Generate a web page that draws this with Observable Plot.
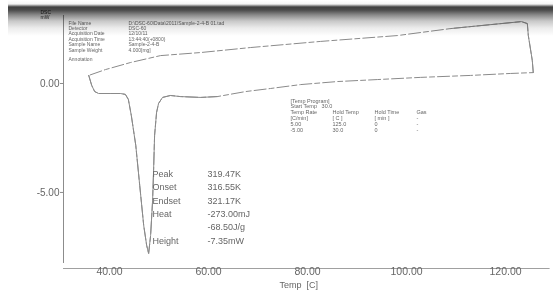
<!DOCTYPE html>
<html>
<head>
<meta charset="utf-8">
<script src="https://cdn.jsdelivr.net/npm/d3@7"></script>
<script src="https://cdn.jsdelivr.net/npm/@observablehq/plot@0.6"></script>
<style>
  html, body { margin: 0; padding: 0; background: #ffffff; }
  #wrap { position: relative; width: 553px; height: 295px; overflow: hidden; }
  #wrap svg { filter: blur(0.35px); }
  #shade {
    position: absolute; left: 8px; top: 0; width: 545px; height: 40px; pointer-events: none;
    mix-blend-mode: multiply;
    background: linear-gradient(to bottom, #ffffff 0px, #f4f4f4 4px, #3e3e3e 7px, #4a4a4a 10px,
      #8a8a8a 15px, #c8c8c8 21px, #ececec 28px, #ffffff 36px);
  }
</style>
</head>
<body>
<div id="wrap"><div id="shade"></div></div>
<script>
// Temperature [C] along the recorded loop (heating, hold jump, cooling)
const temps = [35.8, 36.4, 37.0, 37.8, 40.2, 42.2, 43.2, 43.8, 44.4, 45.3, 46.1, 46.9, 47.5, 47.9,
  48.3, 48.7, 48.9, 49.1, 49.5, 49.9, 50.7, 52.3, 54.3, 58.4, 61.8, 67.5, 72.5, 78.6, 86.1, 94.1,
  102.8, 112.9, 121.0, 125.6, 125.4, 124.6, 124.4, 123.2, 108.9, 98.2, 82.6, 68.5, 58.4, 50.3,
  44.2, 39.2, 35.8];
// DSC signal [mW]
const heatFlow = [0.37, -0.09, -0.37, -0.46, -0.46, -0.46, -0.50, -0.73, -1.47, -2.84, -4.68, -6.51,
  -7.43, -7.80, -6.97, -5.37, -3.99, -2.39, -1.33, -0.92, -0.64, -0.55, -0.60, -0.64, -0.60, -0.37,
  -0.23, -0.05, 0.09, 0.18, 0.28, 0.37, 0.46, 0.50, 1.06, 2.20, 2.75, 2.84, 2.52, 2.20, 1.93, 1.65,
  1.42, 1.28, 0.96, 0.64, 0.37];

const xTicks = [40, 60, 80, 100, 120];
const yTicks = [0, -5];
const xTitle = "Temp  [C]";

const headerLines = ["DSC", "mW"];
const infoLabels = ["File Name", "Detector", "Acquisition Date", "Acquisition Time", "Sample Name", "Sample Weight"];
const infoValues = ["D:\\DSC-60\\Data\\2011\\Sample-2-4-B 01.tad", "DSC-60", "12/10/11", "13:44:40(+0800)", "Sample-2-4-B", "4.000[mg]"];
const annotationLabel = "Annotation";

const peakLabels = ["Peak", "Onset", "Endset", "Heat", "", "Height"];
const peakValues = ["319.47K", "316.55K", "321.17K", "-273.00mJ", "-68.50J/g", "-7.35mW"];

const programHead = ["[Temp Program]", "Start Temp   30.0"];
const programCols = [
  ["Temp Rate", "[C/min]", "5.00", "-5.00"],
  ["Hold Temp", "[ C ]", "125.0", "30.0"],
  ["Hold Time", "[ min ]", "0", "0"],
  ["Gas", "-", "-", "-"]
];

const data = temps.map((t, i) => ({t, mw: heatFlow[i], i}));
const solidA = data.filter(d => d.i <= 24);
const solidB = data.filter(d => d.i >= 33 && d.i <= 38);

const ink = "#666666";
const lineInk = "#8a8a8a";
const font = "'Liberation Sans', Arial, sans-serif";

const txt = (lines, o) => Plot.text([lines.join("\n")], Object.assign({
  text: d => d, frameAnchor: "top-left", textAnchor: "start", lineAnchor: "top", fill: ink
}, o));

const xLeft = 30.7, xRight = 129;
const chart = Plot.plot({
  width: 553, height: 295,
  marginLeft: 63, marginRight: 3.4, marginTop: 15, marginBottom: 27,
  x: {domain: [xLeft, xRight], label: null},
  y: {domain: [-8.49, 3.12], label: null},
  style: {fontFamily: font, color: ink, background: "transparent"},
  marks: [
    Plot.ruleX([xLeft], {y1: -8.26, y2: 3.12, stroke: "#8c8c8c", strokeWidth: 1}),
    Plot.ruleY([-8.49], {stroke: "#a0a0a0", strokeWidth: 1}),
    Plot.axisY({ticks: yTicks, tickFormat: d => d.toFixed(2), tickSize: 3, tickPadding: 1, fontSize: 10, label: null, stroke: "#8c8c8c"}),
    Plot.axisX({ticks: xTicks, tickFormat: d => d.toFixed(2), tickSize: 0, tickPadding: -1, fontSize: 10.5, label: null}),
    Plot.text([xTitle], {text: d => d, frameAnchor: "bottom", lineAnchor: "bottom", dx: -8, dy: 19, fontSize: 9, fill: ink}),
    Plot.line(data, {x: "t", y: "mw", stroke: lineInk, strokeWidth: 1, strokeDasharray: "12,3,5,3"}),
    Plot.line(solidA, {x: "t", y: "mw", stroke: lineInk, strokeWidth: 1}),
    Plot.line(solidB, {x: "t", y: "mw", stroke: lineInk, strokeWidth: 1}),
    // header
    txt(headerLines, {dx: -23, dy: -5.5, fontSize: 5, lineHeight: 1.0, fill: "#303030"}),
    // info block
    txt(infoLabels, {dx: 5, dy: 5.2, fontSize: 5, lineHeight: 1.08}),
    txt(infoValues, {dx: 65, dy: 5.2, fontSize: 5, lineHeight: 1.08}),
    txt([annotationLabel], {dx: 5, dy: 41.5, fontSize: 5}),
    // peak analysis
    txt(peakLabels, {dx: 89, dy: 151.8, fontSize: 9, lineHeight: 1.49}),
    txt(peakValues, {dx: 144, dy: 151.8, fontSize: 9, lineHeight: 1.49}),
    // temperature program table
    txt(programHead, {dx: 227, dy: 83, fontSize: 5.5, lineHeight: 1.06}),
    ...programCols.map((col, k) => txt(col, {dx: 227 + k * 42, dy: 94.6, fontSize: 5.5, lineHeight: 1.06}))
  ]
});
document.getElementById("wrap").prepend(chart);
</script>
</body>
</html>
